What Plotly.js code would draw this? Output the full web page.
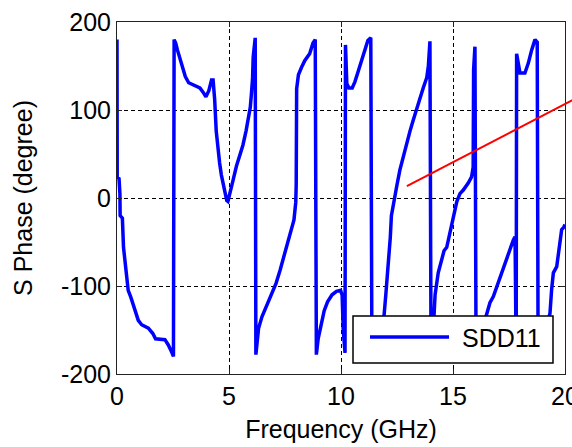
<!DOCTYPE html>
<html>
<head>
<meta charset="utf-8">
<script src="https://cdn.plot.ly/plotly-3.0.1.min.js"></script>
<style>html,body{margin:0;padding:0;background:#fff;}#chart{width:572px;height:447px;}</style>
</head>
<body>
<div id="chart"></div>
<script>
// Frequency (GHz)
const freq = [
  0.00, 0.01, 0.09, 0.13, 0.14, 0.24, 0.29, 0.43, 0.50, 0.62, 0.72, 0.80, 0.95, 1.10, 1.40, 1.60, 1.72, 2.14, 2.29, 2.44, 2.52,
  2.55, 2.62, 2.70, 2.80, 2.92, 3.05, 3.20, 3.45, 3.70, 3.85, 3.97, 4.10, 4.22, 4.29, 4.36, 4.43, 4.50, 4.58, 4.66, 4.78, 4.90, 4.95,
  5.05, 5.18, 5.33, 5.48, 5.62, 5.76, 5.87, 5.95, 6.00, 6.05, 6.08, 6.13, 6.17,
  6.20, 6.26, 6.32, 6.47, 6.65, 6.92, 7.10, 7.28, 7.50, 7.72, 7.90, 7.98, 8.00,
  8.02, 8.10, 8.23, 8.38, 8.60, 8.75, 8.85,
  8.90, 8.98, 9.10, 9.25, 9.40, 9.60, 9.80, 9.98, 10.05, 10.10, 10.18,
  10.20, 10.26, 10.35, 10.50, 10.62, 10.78, 10.93, 11.07, 11.20, 11.33,
  11.38, 11.60, 11.90, 12.00, 12.05, 12.14, 12.20, 12.25, 12.36, 12.50, 12.63, 12.78, 12.93, 13.08, 13.23, 13.38, 13.53, 13.67, 13.83, 13.90, 13.97,
  14.02, 14.12, 14.20, 14.34, 14.50, 14.60, 14.72, 14.87, 15.01, 15.17, 15.31, 15.46, 15.68, 15.83, 15.90, 15.92, 15.98,
  16.03, 16.30, 16.50, 16.65, 16.80, 16.95, 17.10, 17.25, 17.40, 17.54, 17.69, 17.77, 17.82,
  17.84, 17.92, 17.99, 18.21, 18.36, 18.51, 18.66, 18.76,
  18.80, 19.10, 19.33, 19.40, 19.48, 19.63, 19.70, 19.78, 19.85, 19.95, 20.00
];
// SDD11 phase (degree)
const phaseSDD11 = [
  180, 24, 22, 5, -20, -23, -56, -90, -105, -113, -120, -127, -139, -144, -148, -154, -160, -161, -167, -175, -180,
  180, 176, 168, 160, 148, 138, 131, 128, 125, 120, 115, 122, 134, 134, 112, 76, 55, 40, 26, 11, -3, -4,
  5, 20, 36, 48, 60, 76, 90, 103, 118, 135, 160, 178, 182,
  -178, -165, -148, -135, -124, -108, -97, -82, -63, -44, -25, -5, 15,
  124, 140, 148, 156, 164, 176, 180,
  -178, -160, -145, -128, -118, -110, -106, -105, -110, -150, -176,
  174, 130, 125, 125, 132, 145, 158, 170, 179, 182,
  -180, -165, -140, -110, -95, -70, -45, -20, -2, 15, 32, 48, 62, 76, 89, 102, 113, 125, 137, 150, 178,
  -180, -150, -110, -85, -67, -60, -56, -40, -25, -4, 5, 9, 17, 24, 35, 146, 172,
  -180, -150, -131, -119, -112, -101, -90, -78, -67, -56, -48, -44, -180,
  164, 150, 142, 142, 153, 168, 180, 177,
  -180, -155, -131, -105, -85, -78, -63, -48, -36, -33, -30
];
const seriesName = 'SDD11';
const xTicks = [0, 5, 10, 15, 20];
const yTicks = [-200, -100, 0, 100, 200];
const xLabel = 'Frequency (GHz)';
const yLabel = 'S Phase (degree)';

const FONT = '"Liberation Sans", Arial, sans-serif';
const trace = {
  x: freq, y: phaseSDD11, type: 'scatter', mode: 'lines', name: seriesName,
  line: {color: '#0000FF', width: 3.5}, showlegend: false
};
const axisCommon = {
  showline: true, linecolor: '#222', linewidth: 1, mirror: 'ticks',
  ticks: 'inside', ticklen: 5, tickcolor: '#222',
  showgrid: true, gridcolor: '#000', gridwidth: 1, griddash: '4px,3px',
  zeroline: false, ticklabeloverflow: 'allow',
  tickfont: {family: FONT, size: 25, color: '#000'}
};
const layout = {
  width: 572, height: 447,
  margin: {l: 117, r: 7, t: 22, b: 73},
  paper_bgcolor: '#fff', plot_bgcolor: '#fff',
  font: {family: FONT, color: '#000'},
  xaxis: Object.assign({}, axisCommon, {
    range: [0, 20], tickvals: xTicks, ticktext: xTicks.map(String),
    title: {text: xLabel, font: {family: FONT, size: 25, color: '#000'}, standoff: 11}
  }),
  yaxis: Object.assign({}, axisCommon, {
    range: [-200, 200], tickvals: yTicks, ticktext: yTicks.map(String),
    title: {text: yLabel, font: {family: FONT, size: 25, color: '#000'}, standoff: 21}
  }),
  shapes: [
    {type: 'line', xref: 'paper', yref: 'paper', x0: 0.647, y0: 0.534, x1: 1.02, y1: 0.78,
     line: {color: '#FF0000', width: 2}},
    {type: 'rect', xref: 'paper', yref: 'paper', x0: 0.5268, x1: 0.9732, y0: 0.03125, y1: 0.1648,
     fillcolor: '#fff', line: {color: '#000', width: 1.5}},
    {type: 'line', xref: 'paper', yref: 'paper', x0: 0.5647, x1: 0.7411, y0: 0.1051, y1: 0.1051,
     line: {color: '#0000FF', width: 3.5}}
  ],
  annotations: [
    {xref: 'paper', yref: 'paper', x: 0.7656, y: 0.1023, xanchor: 'left', yanchor: 'middle',
     text: seriesName, showarrow: false, font: {family: FONT, size: 25, color: '#000'}}
  ]
};
Plotly.newPlot('chart', [trace], layout, {displayModeBar: false, staticPlot: true});
</script>
</body>
</html>
